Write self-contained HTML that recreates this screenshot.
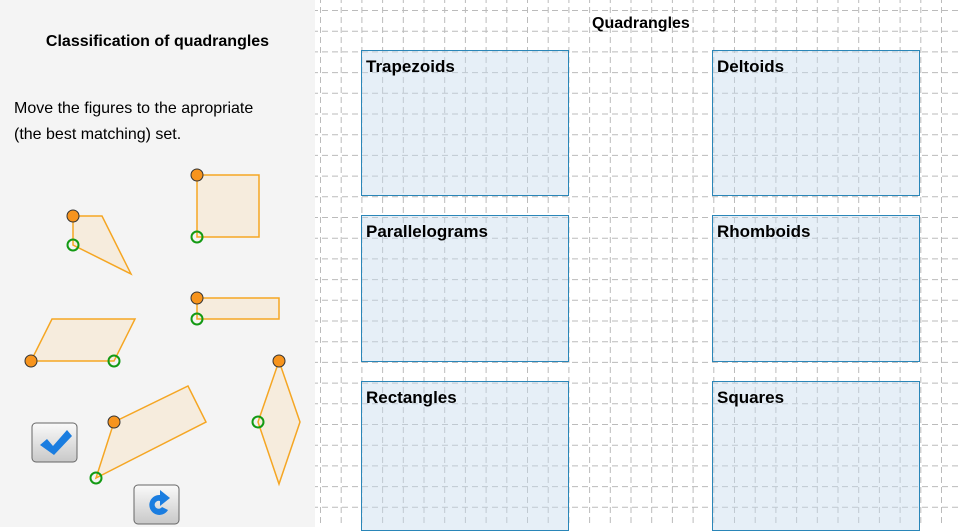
<!DOCTYPE html>
<html><head><style>
body{margin:0;width:960px;height:527px;overflow:hidden;background:#fff;font-family:"Liberation Sans",sans-serif;position:relative}
.lp{position:absolute;left:0;top:0;width:315px;height:527px;background:#f4f4f4}
.t{position:absolute;font-weight:bold;font-size:16px;color:#000}
.box{position:absolute;border:1.5px solid #2a86b8;background:rgba(200,220,238,0.45);box-sizing:border-box}
.box span{position:absolute;left:4px;top:6px;font-weight:bold;font-size:17px}
</style></head><body>
<svg id="g" style="position:absolute;left:0;top:0" width="960" height="527"></svg>
<div class="lp"></div>
<div class="t" style="left:0;width:315px;text-align:center;top:33px">Classification of quadrangles</div>
<div style="position:absolute;left:14px;top:96px;font-size:16px;line-height:26px">Move the figures to the apropriate<br>(the best matching) set.</div>
<div class="t" style="left:592px;top:15px">Quadrangles</div>
<div class="box" style="left:361px;top:50px;width:208px;height:146px"><span>Trapezoids</span></div>
<div class="box" style="left:712px;top:50px;width:208px;height:146px"><span>Deltoids</span></div>
<div class="box" style="left:361px;top:215px;width:208px;height:147px"><span>Parallelograms</span></div>
<div class="box" style="left:712px;top:215px;width:208px;height:147px"><span>Rhomboids</span></div>
<div class="box" style="left:361px;top:381px;width:208px;height:150px"><span>Rectangles</span></div>
<div class="box" style="left:712px;top:381px;width:208px;height:150px"><span>Squares</span></div>
<svg style="position:absolute;left:0;top:0" width="315" height="527">
<g fill="#f6ecdd" stroke="#f5a623" stroke-width="1.5">
<polygon points="73,216 102,216 131,274 73,245"/>
<polygon points="197,175 259,175 259,237 197,237"/>
<polygon points="197,298 279,298 279,319 197,319"/>
<polygon points="31,361 114,361 135,319 52,319"/>
<polygon points="114,422 188,386 206,422 96,478"/>
<polygon points="279,361 300,422 279,484 258,422"/>
</g>
<g fill="#f7941d" stroke="#333" stroke-width="1">
<circle cx="73" cy="216" r="6"/><circle cx="197" cy="175" r="6"/><circle cx="197" cy="298" r="6"/>
<circle cx="31" cy="361" r="6"/><circle cx="114" cy="422" r="6"/><circle cx="279" cy="361" r="6"/>
</g>
<g fill="none" stroke="#139a13" stroke-width="2">
<circle cx="73" cy="245" r="5.5"/><circle cx="197" cy="237" r="5.5"/><circle cx="197" cy="319" r="5.5"/>
<circle cx="114" cy="361" r="5.5"/><circle cx="96" cy="478" r="5.5"/><circle cx="258" cy="422" r="5.5"/>
</g>
<defs><linearGradient id="bg" x1="0" y1="0" x2="0" y2="1"><stop offset="0" stop-color="#fafafa"/><stop offset="1" stop-color="#c8c8c8"/></linearGradient></defs>
<rect x="32" y="423" width="45" height="39" rx="4" fill="url(#bg)" stroke="#666"/>
<path d="M40,445 L47,439 L53,446 L67,430 L72,436 L54,455 Z" fill="#1a7de0"/>
<rect x="134" y="485" width="45" height="39" rx="4" fill="url(#bg)" stroke="#666"/>
<path d="M160,495 A10,10 0 1 0 168,510 L162,507 A4,4 0 1 1 160,501 L160,506 L170,498 L160,490 Z" fill="#1a7de0"/>
</svg>
<script>
var g=document.getElementById('g'),s='<g stroke="#bbb" stroke-width="1" stroke-dasharray="6,4" stroke-dashoffset="3">';
for(var x=320.5;x<960;x+=20.7)s+='<line x1="'+x+'" y1="0" x2="'+x+'" y2="527"/>';
for(var y=10.5;y<527;y+=20.7)s+='<line x1="315" y1="'+y+'" x2="960" y2="'+y+'"/>';
g.innerHTML=s+'</g>';
</script>
</body></html>
